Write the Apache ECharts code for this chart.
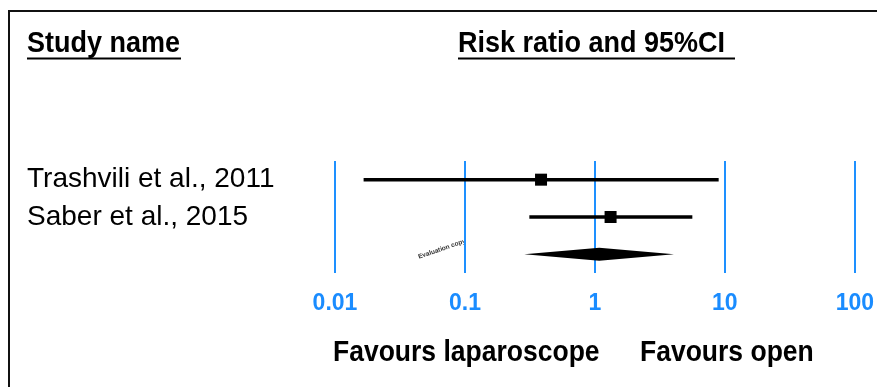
<!DOCTYPE html>
<html>
<head>
<meta charset="utf-8">
<script src="https://cdn.jsdelivr.net/npm/echarts@6/dist/echarts.min.js"></script>
<style>
  html, body { margin: 0; padding: 0; background: #fff; }
  #main { width: 877px; height: 387px; }
</style>
</head>
<body>
<div id="main"></div>
<script>
// study rows, last one is the pooled estimate (no label)
const studies = ['Trashvili et al., 2011', 'Saber et al., 2015', ''];
const riskRatio = [0.385, 1.32, 1.08];
const lowerCI = [0.0166, 0.313, 0.286];
const upperCI = [8.96, 5.62, 4.06];
const isSummary = [0, 0, 1];
const tickLabels = ['0.01', '0.1', '1', '10', '100'];

const FONT = '"Liberation Sans", Arial, sans-serif';
const BLUE = '#1a8cff';

var dom = document.getElementById('main');
var myChart = echarts.init(dom, null, { renderer: 'canvas' });

const rows = studies.map((s, i) => [i, lowerCI[i], riskRatio[i], upperCI[i], isSummary[i]]);

function renderItem(params, api) {
    const idx = api.value(0);
    const lo = api.coord([api.value(1), idx]);
    const mid = api.coord([api.value(2), idx]);
    const hi = api.coord([api.value(3), idx]);
    if (api.value(4)) {
        const h = 6.5;
        return {
            type: 'polygon',
            shape: { points: [[lo[0], lo[1]], [mid[0], mid[1] - h], [hi[0], hi[1]], [mid[0], mid[1] + h]] },
            style: { fill: '#000' }
        };
    }
    const s = 12;
    return {
        type: 'group',
        children: [
            {
                type: 'line',
                shape: { x1: lo[0], y1: lo[1], x2: hi[0], y2: hi[1] },
                style: { stroke: '#000', lineWidth: 3.5 }
            },
            {
                type: 'rect',
                shape: { x: mid[0] - s / 2, y: mid[1] - s / 2, width: s, height: s },
                style: { fill: '#000' }
            }
        ]
    };
}

// header / footer text, a bit taller than wide like the original export
function label(text, x, y, size, bold) {
    return {
        type: 'text', x: x, y: y, scaleY: 1.12, originY: 0,
        style: {
            text: text,
            font: (bold ? 'bold ' : '') + size + 'px ' + FONT,
            fill: '#000',
            textVerticalAlign: 'bottom'
        }
    };
}

const option = {
    backgroundColor: '#fff',
    animation: false,
    textStyle: { fontFamily: FONT },
    grid: { left: 335, right: 22, top: 161, bottom: 114 },
    xAxis: {
        type: 'log',
        logBase: 10,
        min: 0.01,
        max: 100,
        axisLine: { show: false },
        axisTick: { show: false },
        splitLine: { show: true, lineStyle: { color: '#1E90FF', width: 2 } },
        axisLabel: {
            color: BLUE,
            fontFamily: FONT,
            fontWeight: 'bold',
            fontSize: 23,
            margin: 19,
            showMinLabel: true,
            showMaxLabel: true,
            formatter: (v, i) => tickLabels[i]
        }
    },
    yAxis: {
        type: 'category',
        inverse: true,
        data: studies,
        axisLine: { show: false },
        axisTick: { show: false },
        splitLine: { show: false },
        axisLabel: {
            color: '#000',
            fontFamily: FONT,
            fontSize: 28,
            align: 'left',
            margin: 308
        }
    },
    graphic: [
        {
            type: 'rect',
            shape: { x: 9, y: 11, width: 900, height: 420 },
            style: { fill: null, stroke: '#111', lineWidth: 2 }
        },
        label('Study name', 27, 59, 27, true),
        {
            type: 'line', shape: { x1: 27, y1: 58.5, x2: 181, y2: 58.5 },
            style: { stroke: '#000', lineWidth: 2 }
        },
        label('Risk ratio and 95%CI', 458, 59, 27, true),
        {
            type: 'line', shape: { x1: 458, y1: 58.5, x2: 735, y2: 58.5 },
            style: { stroke: '#000', lineWidth: 2 }
        },
        label('Favours laparoscope', 333, 368, 26.5, true),
        label('Favours open', 640, 368, 26.5, true),
        {
            type: 'text', x: 442, y: 249, rotation: 0.33,
            style: { text: 'Evaluation copy', font: 'bold 6.5px ' + FONT, fill: '#333', textAlign: 'center', textVerticalAlign: 'middle' }
        }
    ],
    series: [
        {
            type: 'custom',
            renderItem: renderItem,
            encode: { x: [1, 2, 3], y: 0 },
            data: rows
        }
    ]
};

myChart.setOption(option);
window.addEventListener('resize', myChart.resize);
</script>
</body>
</html>
